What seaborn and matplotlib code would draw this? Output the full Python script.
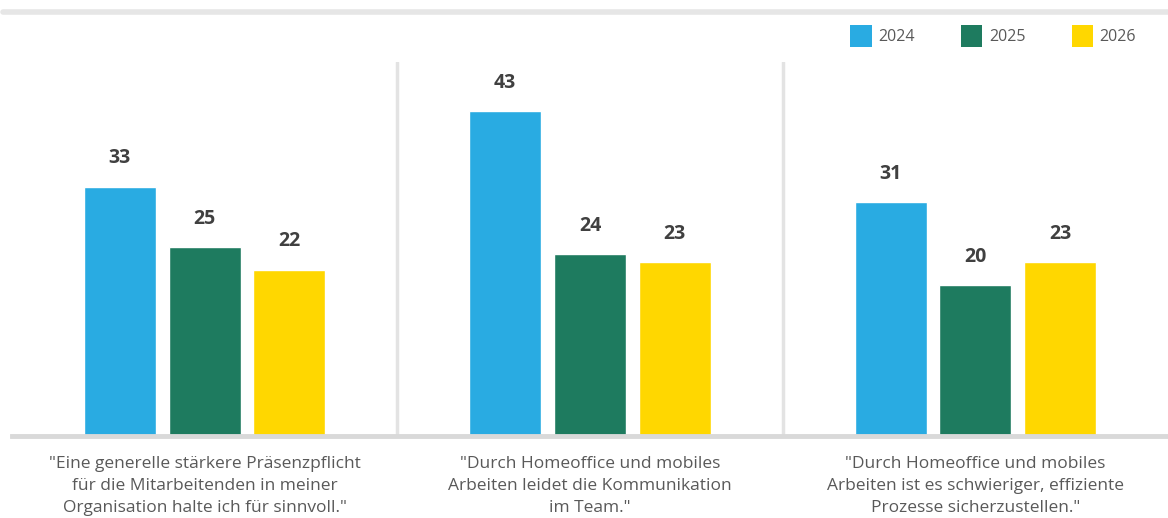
import matplotlib
matplotlib.use("Agg")
import matplotlib.pyplot as plt
import seaborn as sns
import pandas as pd
from matplotlib.patches import Patch
from matplotlib.lines import Line2D

categories = [
    '"Eine generelle stärkere Präsenzpflicht\nfür die Mitarbeitenden in meiner\nOrganisation halte ich für sinnvoll."',
    '"Durch Homeoffice und mobiles\nArbeiten leidet die Kommunikation\nim Team."',
    '"Durch Homeoffice und mobiles\nArbeiten ist es schwieriger, effiziente\nProzesse sicherzustellen."',
]
years = ["2024", "2025", "2026"]
values_2024 = [33, 43, 31]
values_2025 = [25, 24, 20]
values_2026 = [22, 23, 23]
colors = ["#29ABE2", "#1E7B5F", "#FFD700"]

rows = []
for y, vals in zip(years, [values_2024, values_2025, values_2026]):
    for c, v in zip(categories, vals):
        rows.append({"cat": c, "year": y, "val": v})
df = pd.DataFrame(rows)

sns.set_theme(style="white")
plt.rcParams["font.family"] = ["Open Sans", "DejaVu Sans"]

fig = plt.figure(figsize=(11.68, 5.18), dpi=100)
ax = fig.add_axes([12 / 1168, 1 - 435.5 / 518, (1168 - 12) / 1168, (435.5 - 62) / 518])

sns.barplot(data=df, x="cat", y="val", hue="year", hue_order=years,
            palette=colors, width=0.66, gap=0.15, ax=ax, legend=False,
            saturation=1)

for cont in ax.containers:
    ax.bar_label(cont, fmt="%d", padding=13, fontsize=14, fontweight="bold",
                 color="#404040")

ax.set_ylim(0, 49.5)
ax.set_xlim(-0.5, 2.5)
ax.set_xlabel("")
ax.set_ylabel("")
ax.set_yticks([])
ax.tick_params(axis="x", length=0, pad=15, labelsize=12.5, colors="#595959")
for lab in ax.get_xticklabels():
    lab.set_linespacing(1.5)
for s in ["top", "right", "left"]:
    ax.spines[s].set_visible(False)
ax.spines["bottom"].set_color("#D9D9D9")
ax.spines["bottom"].set_linewidth(3.5)

for xpos in [0.5, 1.5]:
    ax.axvline(xpos, color="#E3E3E3", linewidth=2.5, zorder=0)

# top gray rule
fig.add_artist(Line2D([3 / 1168, 1.0], [1 - 12 / 518, 1 - 12 / 518],
                      color="#E6E6E6", linewidth=4))

handles = [Patch(facecolor=c, edgecolor="none") for c in colors]
leg = fig.legend(handles, years, loc="upper right", bbox_to_anchor=(0.985, 0.98),
                 ncol=3, frameon=False, fontsize=11.5, handlelength=1.35,
                 handleheight=1.75, columnspacing=2.9, handletextpad=0.4)
for t in leg.get_texts():
    t.set_color("#595959")

fig.savefig("out.png", dpi=100)
